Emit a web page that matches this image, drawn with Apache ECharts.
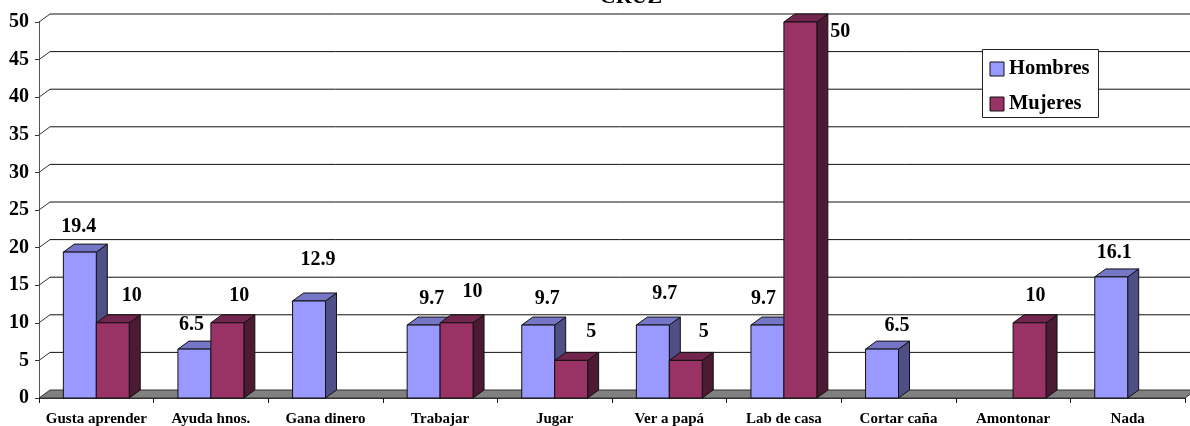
<!DOCTYPE html>
<html><head><meta charset="utf-8">
<style>html,body{margin:0;padding:0;background:#fff;overflow:hidden}#c{width:1190px;height:426px}</style>
<script src="https://cdn.jsdelivr.net/npm/echarts@6/dist/echarts.min.js"></script>
</head><body><div id="c"></div>
<script>
const categories = ['Gusta aprender','Ayuda hnos.','Gana dinero','Trabajar','Jugar','Ver a papá','Lab de casa','Cortar caña','Amontonar','Nada'];
const hombres = [19.4, 6.5, 12.9, 9.7, 9.7, 9.7, 9.7, 6.5, null, 16.1];
const mujeres = [10, 10, null, 10, 5, 5, 50, null, 10, null];
const gridValues = [0,5,10,15,20,25,30,35,40,45,50];
const hombresLabelOffset = [[-1,-25],[-3,-24],[9,-41],[8,-26],[9,-26],[12,-31],[-4,-26],[15,-23],null,[3,-24]];
const mujeresLabelOffset = [[19,-27],[12,-27],null,[16,-31],[20,-29],[18,-29],[40,10],null,[6,-27],null];
const DX = 11, DY = 8, FONT = '"Liberation Serif","Times New Roman",serif';
const EDGE = '#111';
const hombresColors = {front:'#9999FF', side:'#4F4F87', top:'#7676C6'};
const mujeresColors = {front:'#993366', side:'#4D1A33', top:'#73264D'};

function poly(points, fill, stroke) {
  return {type:'polygon', shape:{points}, style:{fill, stroke: stroke||EDGE, lineWidth:1}};
}
function barRenderer(side, colors, offsets, values) {
  return function(params, api) {
    const v = api.value(1);
    if (isNaN(v)) return null;
    const i = api.value(0);
    const c = api.coord([i, v]), b = api.coord([i, 0]);
    const w = api.size([1,0])[0] * 0.2875;
    const x0 = c[0] + (side < 0 ? -w : 0), x1 = x0 + w;
    const off = offsets[i];
    return {type:'group', children:[
      poly([[x1,c[1]],[x1+DX,c[1]-DY],[x1+DX,b[1]-DY],[x1,b[1]]], colors.side),
      poly([[x0,c[1]],[x0+DX,c[1]-DY],[x1+DX,c[1]-DY],[x1,c[1]]], colors.top),
      poly([[x0,c[1]],[x1,c[1]],[x1,b[1]],[x0,b[1]]], colors.front),
      {type:'text', style:{text:String(values[i]), x:(x0+x1)/2+off[0], y:c[1]+off[1],
        align:'center', verticalAlign:'middle', fill:'#000', font:'bold 20px '+FONT}}
    ]};
  };
}
const chart = echarts.init(document.getElementById('c'), null, {renderer:'canvas'});
chart.setOption({
  animation:false,
  backgroundColor:'#fff',
  title:{text:'CRUZ', left:631, top:-14, padding:0, textAlign:'center',
    textStyle:{fontFamily:FONT, fontWeight:'bold', fontSize:22, color:'#000'}},
  grid:{left:39, right:5, top:22, bottom:28, outerBoundsMode:'none'},
  legend:{left:982.5, top:49.5, orient:'vertical', data:['Hombres','Mujeres'], icon:'rect',
    itemWidth:14, itemHeight:14, itemGap:14, padding:[9,9,3,7],
    backgroundColor:'#fff', borderColor:'#222', borderWidth:1, selectedMode:false,
    itemStyle:{borderColor:'#111', borderWidth:1},
    textStyle:{fontFamily:FONT, fontWeight:'bold', fontSize:20.5, color:'#000'}},
  xAxis:{type:'category', data:categories, boundaryGap:true,
    axisLine:{show:true, lineStyle:{color:'#333'}},
    axisTick:{show:true, length:5, lineStyle:{color:'#111'}},
    splitLine:{show:false},
    axisLabel:{interval:0, margin:14, color:'#000', fontFamily:FONT, fontWeight:'bold', fontSize:15}},
  yAxis:{type:'value', min:0, max:50, interval:5,
    axisLine:{show:true, lineStyle:{color:'#555'}},
    axisTick:{show:true, length:4, lineStyle:{color:'#333'}},
    splitLine:{show:false},
    axisLabel:{margin:10, color:'#000', fontFamily:FONT, fontWeight:'bold', fontSize:20, padding:[2,0,0,0]}},
  series:[
    {type:'custom', name:'walls', silent:true, z:1, data:gridValues.map(v=>[0,v]),
     encode:{x:0,y:1},
     renderItem(params, api){
       const v = api.value(1);
       const a = api.coord([0,v]);
       const left = params.coordSys.x, right = left + params.coordSys.width;
       const children = [];
       if (v === 0) {
         children.push(poly([[left,a[1]],[left+DX,a[1]-DY],[right+DX,a[1]-DY],[right,a[1]]],'#808080','#333'));
       } else {
         children.push({type:'line', shape:{x1:left+DX,y1:a[1]-DY,x2:right+DX,y2:a[1]-DY}, style:{stroke:'#111',lineWidth:1}});
         children.push({type:'line', shape:{x1:left,y1:a[1],x2:left+DX,y2:a[1]-DY}, style:{stroke:'#333',lineWidth:1}});
       }
       return {type:'group', children};
     }},
    {type:'custom', name:'Hombres', z:3, itemStyle:{color:hombresColors.front},
     data:hombres.map((v,i)=>[i,v===null?'-':v]), encode:{x:0,y:1},
     renderItem:barRenderer(-1,hombresColors,hombresLabelOffset,hombres)},
    {type:'custom', name:'Mujeres', z:4, itemStyle:{color:mujeresColors.front},
     data:mujeres.map((v,i)=>[i,v===null?'-':v]), encode:{x:0,y:1},
     renderItem:barRenderer(1,mujeresColors,mujeresLabelOffset,mujeres)}
  ]
});
</script></body></html>
